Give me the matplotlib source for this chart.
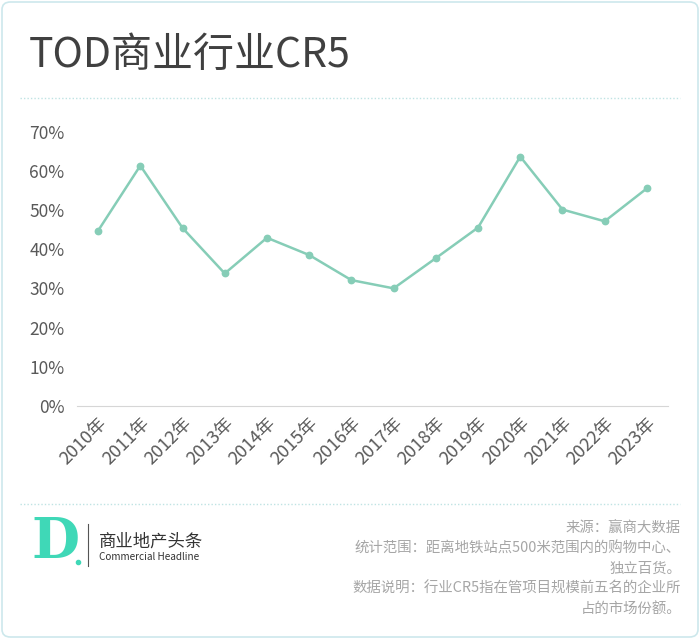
import matplotlib
matplotlib.use("Agg")
import matplotlib.pyplot as plt
from matplotlib.patches import FancyBboxPatch
from matplotlib.lines import Line2D
from matplotlib.ticker import PercentFormatter
import numpy as np

plt.rcParams['font.family'] = ['Noto Sans CJK SC', 'DejaVu Sans']

# data
years = ["2010年", "2011年", "2012年", "2013年", "2014年", "2015年", "2016年",
         "2017年", "2018年", "2019年", "2020年", "2021年", "2022年", "2023年"]
cr5 = [0.447, 0.613, 0.454, 0.338, 0.429, 0.385, 0.321,
       0.300, 0.377, 0.455, 0.636, 0.501, 0.471, 0.555]
yticks = [0, 0.1, 0.2, 0.3, 0.4, 0.5, 0.6, 0.7]

title = "TOD商业行业CR5"
notes = ["来源：赢商大数据",
         "统计范围：距离地铁站点500米范围内的购物中心、",
         "独立百货。",
         "数据说明：行业CR5指在管项目规模前五名的企业所",
         "占的市场份额。"]

W, H = 700, 640
line_color = "#86cdb7"
logo_color = "#3fd8b7"


def fx(x):
    return x / W


def fy(y):
    return 1 - y / H


fig = plt.figure(figsize=(W / 100, H / 100), dpi=100)
fig.patch.set_facecolor("white")

# outer rounded frame, kept behind the axes
frame = FancyBboxPatch((fx(2), fy(637)), fx(696), 635 / H,
                       boxstyle="round,pad=0,rounding_size=0.012",
                       transform=fig.transFigure, facecolor="none",
                       edgecolor="#cde8ec", linewidth=1.2, zorder=-1)
fig.patches.append(frame)

fig.text(fx(29), fy(56), title, fontsize=29.5, color="#404040",
         ha="left", va="center")

# dotted separators
for yy in [98, 504]:
    fig.add_artist(Line2D([fx(20), fx(680)], [fy(yy), fy(yy)],
                          transform=fig.transFigure, color="#bfe3e3",
                          linestyle=(0, (1, 1.5)), linewidth=1))

ax = fig.add_axes([fx(77), fy(406), fx(668 - 77), (406 - 131.5) / H])
x = np.arange(len(years))
ax.plot(x, cr5, color=line_color, linewidth=1.8, marker="o",
        markersize=4.6, markerfacecolor=line_color, markeredgecolor=line_color)
ax.set_xlim(-0.5, len(years) - 0.5)
ax.set_ylim(0, 0.7)
ax.set_yticks(yticks)
ax.yaxis.set_major_formatter(PercentFormatter(1, decimals=0))
ax.set_xticks(x)
ax.set_xticklabels(years, rotation=45, ha="right", rotation_mode="anchor")
for s in ["top", "right", "left"]:
    ax.spines[s].set_visible(False)
ax.spines["bottom"].set_color("#d6d6d6")
ax.tick_params(axis="y", length=0, pad=9, labelsize=12.5, labelcolor="#595959")
ax.tick_params(axis="x", length=0, pad=6, labelsize=13, labelcolor="#595959")

# logo
fig.text(fx(31), fy(543), "D", fontsize=40, color=logo_color, family="DejaVu Serif",
         fontweight="bold", ha="left", va="center")
fig.add_artist(Line2D([fx(78)], [fy(562)], transform=fig.transFigure,
                      marker="o", markersize=3, color=logo_color, linestyle="none"))
fig.add_artist(Line2D([fx(88), fx(88)], [fy(524), fy(566)], transform=fig.transFigure,
                      color="#555555", linewidth=0.8))
fig.text(fx(99), fy(542), "商业地产头条", fontsize=12.5, color="#333333",
         ha="left", va="center")
fig.text(fx(99), fy(557), "Commercial Headline", fontsize=7.2, color="#333333",
         ha="left", va="center")

for i, t in enumerate(notes):
    fig.text(fx(681), fy(529 + i * 20), t, fontsize=10.4, color="#a6a6a6",
             ha="right", va="center")

fig.savefig("out.png", dpi=100)
